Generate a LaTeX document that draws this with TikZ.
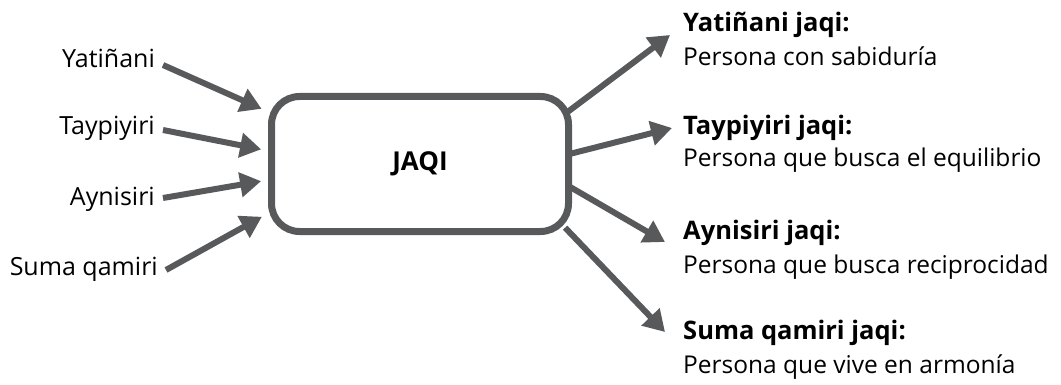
\documentclass[tikz,border=0pt]{standalone}
\usepackage{fontspec}
\setmainfont{Open Sans}
\usetikzlibrary{arrows.meta,backgrounds}
\definecolor{jgray}{RGB}{88,89,91}

\begin{document}
\begin{tikzpicture}[x=1pt,y=-1pt,
  jarrow/.style={draw=jgray, line width=6pt, -{Triangle[length=21pt,width=24pt]}},
  srcname/.style={anchor=base east, inner xsep=8pt, inner ysep=0pt, font=\fontsize{25}{28}\selectfont},
  jtitle/.style={anchor=base west, inner sep=0pt, font=\bfseries\fontsize{25.5}{29}\selectfont},
  jdesc/.style={anchor=base west, inner sep=0pt, font=\fontsize{24.5}{28}\selectfont}]

\useasboundingbox (0,0) rectangle (1061,385);

\node[draw=jgray, fill=white, line width=7pt, rounded corners=28pt, minimum width=297pt,
      minimum height=135pt, font=\bfseries\fontsize{26}{30}\selectfont] (jaqi) at (420,164) {JAQI};

\node[srcname] (yat)  at (163,68)  {Yatiñani};
\node[srcname] (tay)  at (163,135) {Taypiyiri};
\node[srcname] (ayn)  at (163,205) {Aynisiri};
\node[srcname] (suma) at (166,275) {Suma qamiri};

\draw[jarrow, shorten >=7pt] ([yshift=3pt]yat.base east)  -- (jaqi.161.4);
\draw[jarrow, shorten >=7pt] ([yshift=5pt]tay.base east)  -- (jaqi.175.2);
\draw[jarrow, shorten >=7pt] ([yshift=7pt]ayn.base east)  -- (jaqi.186.4);
\draw[jarrow, shorten >=7pt] ([yshift=5pt]suma.base east) -- (jaqi.198);

\node[jtitle] (tyat)  at (683,32)  {Yatiñani jaqi:};
\node[jdesc]  (dyat)  at (683,66)  {Persona con sabiduría};
\node[jtitle] (ttay)  at (683,135) {Taypiyiri jaqi:};
\node[jdesc]  (dtay)  at (683,167) {Persona que busca el equilibrio};
\node[jtitle] (tayn)  at (683,239) {Aynisiri jaqi:};
\node[jdesc]  (dayn)  at (683,273) {Persona que busca reciprocidad};
\node[jtitle] (tsuma) at (683,339) {Suma qamiri jaqi:};
\node[jdesc]  (dsuma) at (683,373) {Persona que vive en armonía};

\coordinate (r1) at (670,35);
\coordinate (r2) at (672,128);
\coordinate (r3) at (665,242);
\coordinate (r4) at (665,332);

\begin{scope}[on background layer]
\draw[jarrow, shorten <=-10pt] (jaqi.20)    -- (r1);
\draw[jarrow, shorten <=-10pt] (jaqi.4.7)   -- (r2);
\draw[jarrow, shorten <=-10pt] (jaqi.-9.4)  -- (r3);
\draw[jarrow, shorten <=-10pt] (jaqi.-25.6) -- (r4);
\end{scope}
\end{tikzpicture}
\end{document}
